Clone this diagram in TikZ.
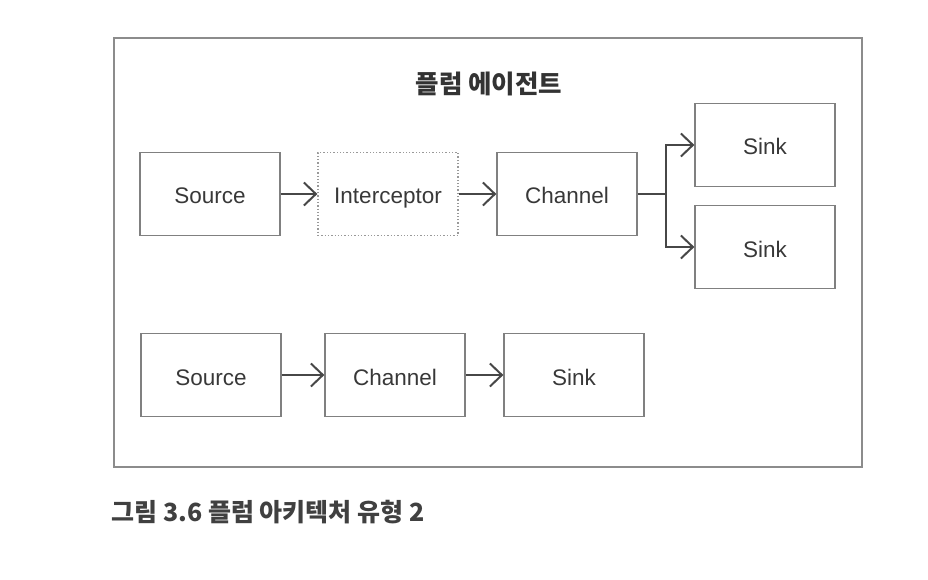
\documentclass[tikz,border=0pt]{standalone}
\usepackage{fontspec}
\setmainfont{Liberation Sans}
\newfontfamily\krfont{Noto Sans CJK KR}
\usetikzlibrary{arrows.meta}

\tikzset{
  unit/.style={draw=black!50, line width=1.3pt, minimum width=140pt,
    minimum height=83pt, inner sep=0pt, text=black!78,
    text height=20pt, text depth=0pt,
    font=\fontsize{22.5}{26}\selectfont},
  hook/.style={unit, draw=black!40, dotted},
  flow/.style={draw=black!72, line width=2pt,
    -{Straight Barb[length=12pt,width=23pt,line width=2pt]}},
  wire/.style={draw=black!72, line width=2pt},
}

\begin{document}
\begin{tikzpicture}[x=1pt, y=-1pt]
  \useasboundingbox (0,0) rectangle (928,580);
  \draw [draw=black!45, line width=1.3pt] (114,38) rectangle (862,467);
  \node (title) at (489,84) {\krfont\bfseries\fontsize{25.5}{28}\selectfont\color{black!80}플럼 에이전트};

  % upper chain
  \path  (210,194)   node[unit](src) {Source}
          +(178,0)   node[hook](icp) {Interceptor}
          +(357,0)   node[unit](chan) {Channel}
          +(555,-49) node[unit](sinkA) {Sink}
          +(555,53)  node[unit](sinkB) {Sink};
    \draw [flow] (src) to (icp);
    \draw [flow] (icp) to (chan);
    \draw [wire] (chan.east) -- ++(28,0) coordinate(fork);
    \draw [flow] (fork) |- (sinkA);
    \draw [flow] (fork) |- (sinkB);

  % lower chain
  \path  (211,375)   node[unit](src2) {Source}
          +(184,0)   node[unit](chan2) {Channel}
          +(363,0)   node[unit](sink2) {Sink};
    \draw [flow] (src2) to (chan2);
    \draw [flow] (chan2) to (sink2);

  \node [anchor=west] (caption) at (108,512) {\krfont\bfseries\fontsize{25}{28}\selectfont\color{black!75}그림 3.6 플럼 아키텍처 유형 2};
\end{tikzpicture}
\end{document}
